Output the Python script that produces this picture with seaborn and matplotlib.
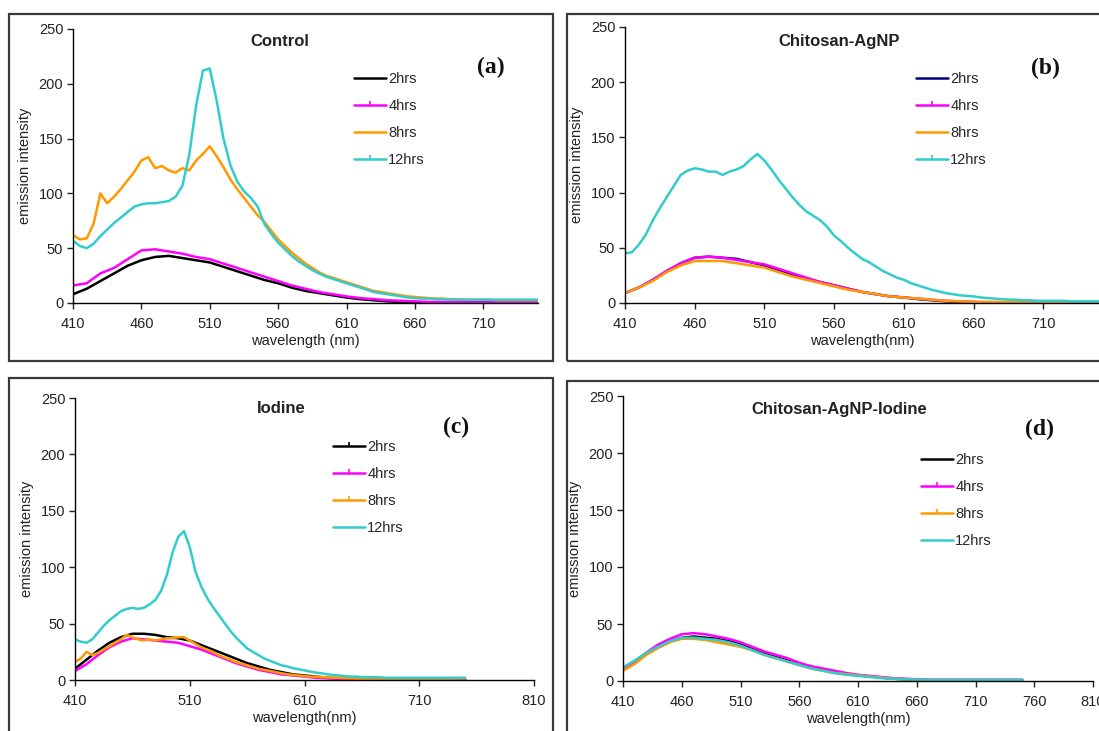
import numpy as np
import pandas as pd
import matplotlib
matplotlib.use("Agg")
import matplotlib.pyplot as plt
import seaborn as sns
from matplotlib.lines import Line2D
from matplotlib.patches import Rectangle

# ---------------- data ----------------
wl5 = list(range(410, 755, 5))    # 69 points, 410..750
wl10 = list(range(410, 755, 10))  # 35 points, 410..750
labels = ["2hrs", "4hrs", "8hrs", "12hrs"]

# (a) Control
a_2 = [8, 13, 20, 27, 34, 39, 42, 43, 41, 39, 37, 33, 29, 25, 21, 18, 14, 11, 9, 7,
       5, 3.5, 2.5, 1.5, 1, 0.8, 0.5, 0.5, 0.5, 0.5, 0.5, 0.5, 0.5, 0.5, 0.5]
a_4 = [16, 18, 27, 32, 40, 48, 49, 47, 45, 42, 40, 36, 32, 28, 24, 20, 16, 13, 10, 8,
       6, 4.5, 3.5, 2.5, 2, 1.5, 1, 1, 0.8, 0.5, 0.5, 0.5, 0.5, 0.5, 0.5]
a_8 = [62, 58, 59, 72, 100, 91, 97, 104, 112, 120, 130, 133, 123, 125, 121, 119, 123, 121, 130, 136,
       143, 134, 124, 113, 104, 96, 88, 80, 74, 66, 58, 52, 46, 41, 36, 32, 28, 25,
       23, 21, 19, 17, 15, 13, 11, 10, 9, 8, 7, 6, 5.5, 5, 4.5, 4, 4, 3.5, 3.5, 3,
       3, 3, 3, 3, 2.5, 2.5, 2.5, 2.5, 2.5, 2.5, 2.5]
a_12 = [57, 52, 50, 54, 61, 67, 73, 78, 83, 88, 90, 91, 91, 92, 93, 97, 107, 135, 180, 212,
        214, 185, 150, 126, 111, 102, 96, 88, 72, 63, 55, 49, 43, 38, 34, 30, 27, 24, 22, 20,
        18, 16, 14, 12, 10, 9, 8, 7, 6, 5, 4.5, 4, 4, 3.5, 3.5, 3, 3, 3, 3, 3,
        3, 3, 3, 3, 3, 3, 3, 3, 3]

# (b) Chitosan-AgNP
b_2 = [9, 14, 21, 29, 36, 41, 42, 41, 40, 37, 34, 30, 26, 22, 19, 16, 13, 10, 8, 6,
       5, 3.5, 2.5, 1.5, 1, 0.8, 0.5, 0.5, 0.5, 0.5, 0.5, 0.5, 0.5, 0.5, 0.5]
b_4 = [9, 14, 21, 29, 36, 41, 42, 41, 39, 37, 35, 31, 27, 23, 19, 16, 13, 10, 8, 6,
       5, 4, 3, 2, 1.5, 1, 0.8, 0.8, 0.5, 0.5, 0.5, 0.5, 0.5, 0.5, 0.5]
b_8 = [9, 14, 20, 28, 34, 38, 38, 38, 36, 34, 32, 28, 24, 21, 18, 15, 12, 10, 8, 6,
       5, 4, 3, 2, 1.5, 1, 1, 0.8, 0.8, 0.8, 0.8, 0.8, 0.8, 0.8, 0.8]
b_12 = [45, 46, 53, 62, 75, 86, 96, 106, 116, 120, 122, 121, 119, 119, 116, 119, 121, 124, 130, 135,
        129, 121, 112, 104, 96, 89, 83, 79, 75, 69, 61, 56, 50, 45, 40, 37, 33, 29, 26, 23,
        21, 18, 16, 14, 12, 10.5, 9, 8, 7, 6.5, 6, 5, 4.5, 4, 3.5, 3, 3, 2.5, 2.5, 2,
        2, 2, 2, 2, 1.5, 1.5, 1.5, 1.5, 1.5]

# (c) Iodine
c_2 = [10, 18, 26, 33, 38, 41, 41, 40, 38, 37, 35, 31, 27, 23, 19, 15, 12, 9, 7, 5,
       4, 3, 2, 1.5, 1, 0.8, 0.5, 0.5, 0.5, 0.5, 0.5, 0.5, 0.5, 0.5, 0.5]
c_4 = [8, 14, 22, 29, 34, 37, 36, 35, 34, 33, 30, 27, 23, 19, 15, 12, 9, 7, 5, 4,
       3, 2, 1.5, 1, 0.8, 0.5, 0.5, 0.5, 0.5, 0.5, 0.5, 0.5, 0.5, 0.5, 0.5]
c_8 = [16, 19, 25, 22, 24, 27, 30, 33, 36, 40, 38, 36, 35, 36, 35, 36, 37, 37, 38, 38,
       35, 32, 29, 27, 25, 22, 20, 18, 16, 14.5, 13, 11.5, 10, 9, 8, 7, 6, 5, 4.5, 4,
       3.5, 3, 3, 2.5, 2.5, 2, 2, 1.5, 1.5, 1.2, 1.2, 1.2, 1.2, 1.2, 1.2, 1.2, 1.2, 1.2, 1.2, 1.2,
       1.2, 1.2, 1.2, 1.2, 1.2, 1.2, 1.2, 1.2, 1.5]
c_12 = [36, 34, 33, 36, 42, 48, 53, 57, 61, 63, 64, 63, 64, 67, 71, 79, 93, 113, 127, 132,
        118, 96, 83, 73, 65, 58, 51, 44, 38, 33, 28, 25, 22, 19, 17, 15, 13, 12, 10.5, 9.5,
        8.5, 7.5, 6.5, 6, 5, 4.5, 4, 3.5, 3, 3, 2.5, 2.5, 2.5, 2.5, 2, 2, 2, 2, 2, 2,
        2, 2, 2, 2, 2, 2, 2, 2, 2]

# (d) Chitosan-AgNP-Iodine
d_2 = [11, 17, 24, 30, 35, 38, 39, 38, 37, 35, 32, 28, 24, 21, 18, 15, 12, 10, 8, 6,
       5, 4, 3, 2, 1.5, 1, 0.8, 0.8, 0.8, 0.8, 0.8, 0.8, 0.8, 0.8, 0.8]
d_4 = [11, 17, 25, 32, 37, 41, 42, 41, 39, 37, 34, 30, 26, 23, 20, 16, 13, 11, 9, 7,
       5.5, 4.5, 3.5, 2.5, 2, 1.5, 1, 1, 1, 1, 1, 1, 1, 1, 1]
d_8 = [9, 15, 23, 29, 34, 37, 37, 36, 34, 32, 30, 27, 23, 20, 17, 14, 11, 9, 7, 6,
       5, 4, 3, 2, 1.5, 1, 0.8, 0.8, 0.8, 0.8, 0.8, 0.8, 0.8, 0.8, 0.8]
d_12 = [12, 18, 25, 30, 35, 38, 38, 37, 36, 34, 31, 27, 23, 20, 17, 14, 11, 9, 7, 5.5,
        4.5, 3.5, 2.5, 2, 1.5, 1.2, 1, 1, 1, 1, 1, 1, 1, 1, 1]

yticks = [0, 50, 100, 150, 200, 250]
xticks_ab = [410, 460, 510, 560, 610, 660, 710]
xticks_c = [410, 510, 610, 710, 810]
xticks_d = [410, 460, 510, 560, 610, 660, 710, 760, 810]

# ---------------- style ----------------
sns.set_theme(style="white")
plt.rcParams["font.family"] = ["Liberation Sans", "DejaVu Sans"]

W, H = 1099, 731
fig = plt.figure(figsize=(W / 100, H / 100), dpi=100)
fig.patch.set_facecolor("white")


def px_rect(x0, y0, x1, y1):
    return [x0 / W, 1 - y1 / H, (x1 - x0) / W, (y1 - y0) / H]


def frame(x0, y0, x1, y1):
    r = px_rect(x0, y0, x1, y1)
    fig.add_artist(Rectangle((r[0], r[1]), r[2], r[3], transform=fig.transFigure,
                             fill=False, lw=1.6, ec="#3a3a3a"))


BLACK, NAVY, MAG, ORG, CYN = "#000000", "#000080", "#FF00FF", "#FF9900", "#33CCCC"


def panel(rect, xs, ys, colors, xlim, xticks, title, tpos, tag, tagpos,
          anchor, marks, xlabel):
    ax = fig.add_axes(rect)
    frames = []
    for lab, x, y in zip(labels, xs, ys):
        frames.append(pd.DataFrame({"wl": x, "val": y, "series": lab}))
    df = pd.concat(frames, ignore_index=True)
    sns.lineplot(data=df, x="wl", y="val", hue="series", hue_order=labels,
                 palette=dict(zip(labels, colors)), estimator=None, errorbar=None,
                 legend=False, linewidth=1.8, ax=ax)
    ax.set_xlim(*xlim)
    ax.set_ylim(0, 250)
    ax.set_xticks(xticks)
    ax.set_yticks(yticks)
    for s in ("top", "right"):
        ax.spines[s].set_visible(False)
    for s in ("left", "bottom"):
        ax.spines[s].set_color("black")
        ax.spines[s].set_linewidth(1.0)
    ax.tick_params(axis="both", which="major", direction="out", length=4, width=1,
                   colors="#222222", labelsize=10.5, bottom=True, left=True, pad=3)
    ax.tick_params(axis="x", pad=6)
    ax.set_xlabel(xlabel, fontsize=10.5, labelpad=2, color="#222222")
    ax.set_ylabel("emission intensity", fontsize=10.5, labelpad=5, color="#222222")
    ax.text(tpos[0], tpos[1], title, transform=ax.transAxes, ha="center", va="center",
            fontsize=12, fontweight="bold", color="#222222")
    ax.text(tagpos[0], tagpos[1], tag, transform=ax.transAxes, ha="center", va="center",
            fontsize=17, fontweight="bold", family=["Liberation Serif", "DejaVu Serif"],
            color="#111111")
    handles = [Line2D([], [], color=c, lw=1.8, marker=(2 if m else None), markersize=3,
                      markeredgewidth=1.2) for c, m in zip(colors, marks)]
    ax.legend(handles, labels, loc="upper left", bbox_to_anchor=anchor, frameon=False,
              borderaxespad=0, borderpad=0, handlelength=2.2, handletextpad=0.15,
              labelspacing=0.9, fontsize=10.5)
    ax.set_facecolor("none")
    return ax


frame(9, 14, 553, 361)
frame(567, 14, 1115, 361)
frame(9, 378, 553, 745)
frame(567, 381, 1115, 745)

panel(px_rect(73, 29, 538, 303), [wl10, wl10, wl5, wl5], [a_2, a_4, a_8, a_12],
      [BLACK, MAG, ORG, CYN], (410, 750), xticks_ab, "Control", (0.445, 0.953),
      "(a)", (0.899, 0.858), (0.604, 0.843), [False, True, False, True],
      "wavelength (nm)")
panel(px_rect(625, 27, 1099, 303), [wl10, wl10, wl10, wl5], [b_2, b_4, b_8, b_12],
      [NAVY, MAG, ORG, CYN], (410, 750), xticks_ab, "Chitosan-AgNP", (0.451, 0.946),
      "(b)", (0.888, 0.851), (0.614, 0.837), [False, True, False, True],
      "wavelength(nm)")
panel(px_rect(75, 398, 534, 680), [wl10, wl10, wl5, wl5], [c_2, c_4, c_8, c_12],
      [BLACK, MAG, ORG, CYN], (410, 810), xticks_c, "Iodine", (0.449, 0.961),
      "(c)", (0.830, 0.894), (0.562, 0.851), [True, True, True, False],
      "wavelength(nm)")
panel(px_rect(623, 396, 1093, 681), [wl10, wl10, wl10, wl10], [d_2, d_4, d_8, d_12],
      [BLACK, MAG, ORG, CYN], (410, 810), xticks_d, "Chitosan-AgNP-Iodine", (0.46, 0.951),
      "(d)", (0.887, 0.881), (0.634, 0.80), [False, True, True, False],
      "wavelength(nm)")

fig.savefig("out.png", dpi=100)
